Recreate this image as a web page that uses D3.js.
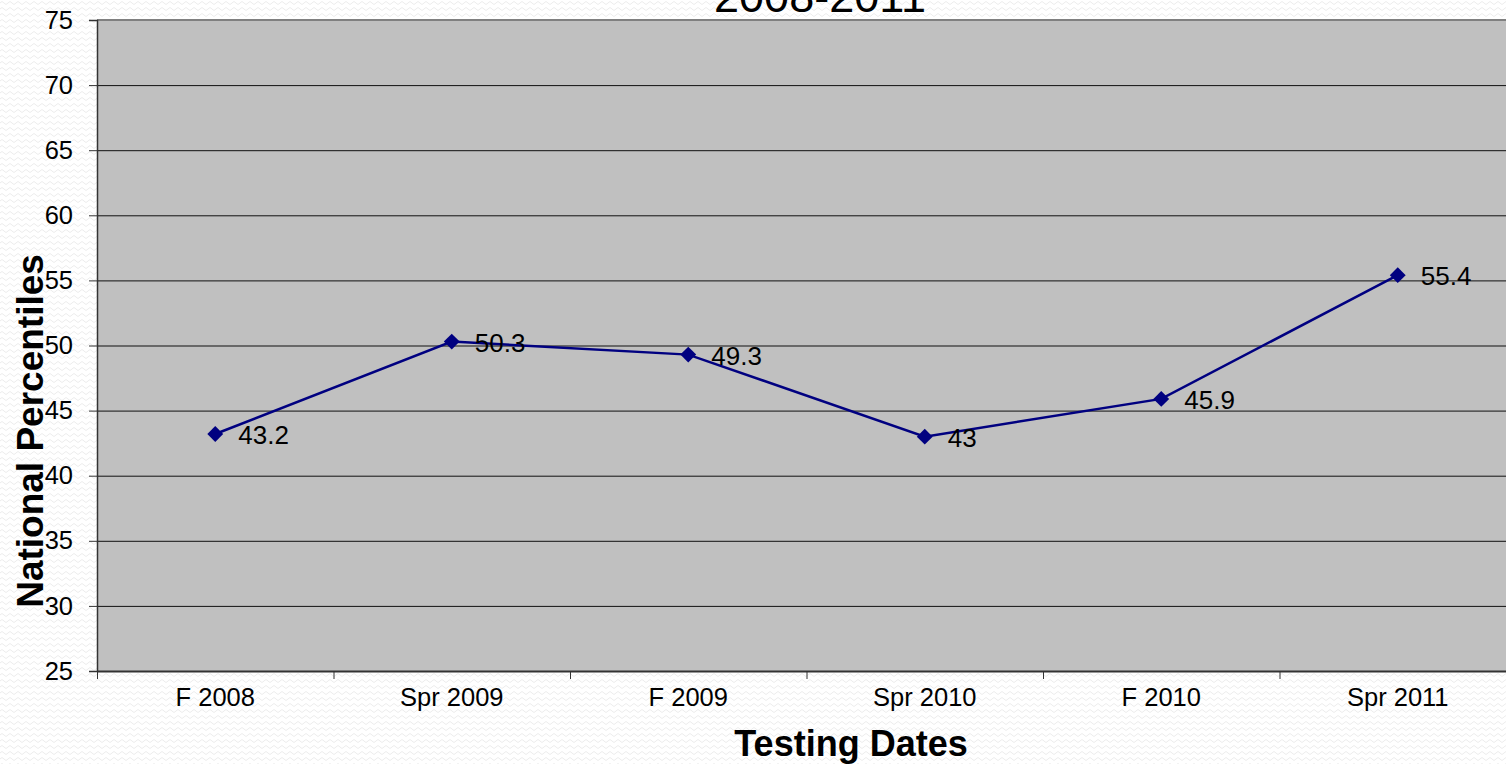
<!DOCTYPE html>
<html>
<head>
<meta charset="utf-8">
<script src="https://cdn.jsdelivr.net/npm/d3@7"></script>
<style>
  html, body { margin: 0; padding: 0; background: #fff; overflow: hidden; }
  svg { display: block; font-family: "Liberation Sans", Arial, sans-serif; }
</style>
</head>
<body>
<svg id="chart" width="1506" height="764"></svg>
<script>
// 데이터
const categories = ["F 2008", "Spr 2009", "F 2009", "Spr 2010", "F 2010", "Spr 2011"];
const values = [43.2, 50.3, 49.3, 43, 45.9, 55.4];
const yTicks = [25, 30, 35, 40, 45, 50, 55, 60, 65, 70, 75];

const svg = d3.select("#chart");
const W = 1506, H = 764;

// background texture (subtle wavy)
const defs = svg.append("defs");
const pat = defs.append("pattern")
  .attr("id", "wave")
  .attr("width", 8).attr("height", 6)
  .attr("patternUnits", "userSpaceOnUse");
pat.append("path")
  .attr("d", "M0,3 Q2,0 4,3 T8,3")
  .attr("fill", "none")
  .attr("stroke", "#ececec")
  .attr("stroke-width", 1);
svg.append("rect").attr("width", W).attr("height", H).attr("fill", "#fff");
svg.append("rect").attr("width", W).attr("height", H).attr("fill", "url(#wave)");

const plot = { left: 97, right: 1516, top: 20, bottom: 671 };

const x = d3.scaleBand()
  .domain(categories)
  .range([plot.left, plot.right]);

const y = d3.scaleLinear()
  .domain([25, 75])
  .range([plot.bottom, plot.top]);

// plot area
svg.append("rect")
  .attr("x", plot.left).attr("y", plot.top)
  .attr("width", plot.right - plot.left)
  .attr("height", plot.bottom - plot.top)
  .attr("fill", "#c0c0c0");

// gridlines
svg.append("g")
  .selectAll("line")
  .data(yTicks.filter(t => t > 25 && t < 75))
  .enter().append("line")
  .attr("x1", plot.left).attr("x2", plot.right)
  .attr("y1", d => y(d) + 0.5).attr("y2", d => y(d) + 0.5)
  .attr("stroke", "#111").attr("stroke-width", 1);

// top border
svg.append("line")
  .attr("x1", plot.left).attr("x2", plot.right)
  .attr("y1", y(75)).attr("y2", y(75))
  .attr("stroke", "#808080").attr("stroke-width", 2);

// y axis
const yAxis = svg.append("g")
  .attr("transform", `translate(${plot.left},0)`)
  .call(d3.axisLeft(y).tickValues(yTicks).tickSize(8).tickPadding(16));
yAxis.select(".domain").attr("stroke", "#333").attr("stroke-width", 1.5);
yAxis.selectAll(".tick line").attr("stroke", "#333");
yAxis.selectAll(".tick text")
  .attr("font-size", 25.5)
  .attr("font-family", "Liberation Sans, Arial, sans-serif")
  .attr("fill", "#000");

// x axis
const xAxis = svg.append("g")
  .attr("transform", `translate(0,${plot.bottom})`)
  .call(d3.axisBottom(x).tickSize(0).tickPadding(17));
xAxis.select(".domain").attr("stroke", "#333").attr("stroke-width", 2);
xAxis.selectAll(".tick text")
  .attr("font-size", 25.5)
  .attr("font-family", "Liberation Sans, Arial, sans-serif")
  .attr("fill", "#000");

// category boundary ticks
svg.append("g")
  .selectAll("line")
  .data(categories)
  .enter().append("line")
  .attr("x1", d => x(d) + 0.5).attr("x2", d => x(d) + 0.5)
  .attr("y1", plot.bottom).attr("y2", plot.bottom + 8)
  .attr("stroke", "#333");

// line
const line = d3.line()
  .x((d, i) => x(categories[i]) + x.bandwidth() / 2)
  .y(d => y(d));

svg.append("path")
  .datum(values)
  .attr("d", line)
  .attr("fill", "none")
  .attr("stroke", "#000080")
  .attr("stroke-width", 2.5);

// diamond markers
svg.append("g")
  .selectAll("path")
  .data(values)
  .enter().append("path")
  .attr("d", d3.symbol().type(d3.symbolDiamond2).size(160))
  .attr("transform", (d, i) => `translate(${x(categories[i]) + x.bandwidth() / 2},${y(d)})`)
  .attr("fill", "#000080");

// data labels
svg.append("g")
  .selectAll("text")
  .data(values)
  .enter().append("text")
  .attr("x", (d, i) => x(categories[i]) + x.bandwidth() / 2 + 23)
  .attr("y", d => y(d) + 10)
  .attr("font-size", 26)
  .attr("fill", "#000")
  .text(d => d);

// axis titles
svg.append("text")
  .attr("x", 851).attr("y", 756)
  .attr("text-anchor", "middle")
  .attr("font-size", 36)
  .attr("font-weight", "bold")
  .text("Testing Dates");

svg.append("text")
  .attr("transform", "translate(43,431) rotate(-90)")
  .attr("text-anchor", "middle")
  .attr("font-size", 37)
  .attr("font-weight", "bold")
  .text("National Percentiles");

// title (cut off at top)
svg.append("text")
  .attr("x", 820).attr("y", 12)
  .attr("text-anchor", "middle")
  .attr("font-size", 45)
  .text("2008-2011");
</script>
</body>
</html>
